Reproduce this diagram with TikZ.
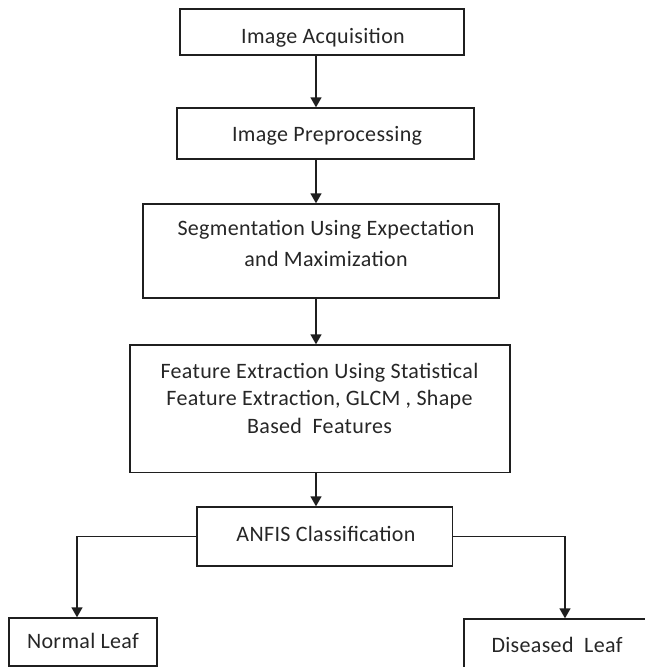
\documentclass[tikz,border=0pt]{standalone}
\usepackage{fontspec}
\setmainfont{Carlito}[LetterSpace=1.5]
\usetikzlibrary{arrows.meta}
\begin{document}
\begin{tikzpicture}[x=1pt,y=-1pt,
  box/.style={draw=black!88, line width=1.4pt, inner sep=0pt, rectangle},
  lbl/.style={anchor=base, inner sep=0pt, align=center, text=black!85,
              font=\fontsize{22}{27.5}\selectfont},
  flow/.style={draw=black!88, line width=1.4pt, -{Triangle[width=11pt,length=10pt]}}]
\useasboundingbox (0,0) rectangle (645,667);
\clip (0,0) rectangle (645,667);

% process boxes
\node[box, minimum width=284, minimum height=46]    (b1) at (322,32)      {};
\node[box, minimum width=297, minimum height=51]    (b2) at (325.5,133.5) {};
\node[box, minimum width=356, minimum height=94]    (b3) at (321,251)     {};
\node[box, minimum width=380, minimum height=127.5] (b4) at (320,408.75)  {};
\node[box, minimum width=255.5, minimum height=59]  (b5) at (324.75,536.5) {};
\node[box, minimum width=148, minimum height=48]    (b6) at (83,642)      {};
\node[box, minimum width=200, minimum height=60]    (b7) at (564,649)     {};

% box texts (base anchor sits on the last line)
\node[lbl] (t1) at (323,43)    {Image Acquisition};
\node[lbl] (t2) at (327,141.7) {Image Preprocessing};
\node[lbl, font=\fontsize{22}{31.5}\selectfont] (t3) at (326,266.5)
  {Segmentation Using Expectation\\and Maximization};
\node[lbl] (t4) at (319.5,433)
  {Feature Extraction Using Statistical\\Feature Extraction, GLCM , Shape\\Based\ \ Features};
\node[lbl] (t5) at (326,541)   {ANFIS Classification};
\node[lbl] (t6) at (83,648)    {Normal Leaf};
\node[lbl] (t7) at (557,652)   {Diseased\ \ Leaf};

% connector columns
\coordinate (spine) at (316,0);
\coordinate (ldrop) at (77,0);
\coordinate (rdrop) at (565,0);

\draw[flow] (b1.south -| spine) -- (b2.north -| spine);
\draw[flow] (b2.south -| spine) -- (b3.north -| spine);
\draw[flow] (b3.south -| spine) -- (b4.north -| spine);
\draw[flow] (b4.south -| spine) -- (b5.north -| spine);
\draw[flow] (b5.west) -| (b6.north -| ldrop);
\draw[flow] (b5.east) -| (b7.north -| rdrop);
\end{tikzpicture}
\end{document}
